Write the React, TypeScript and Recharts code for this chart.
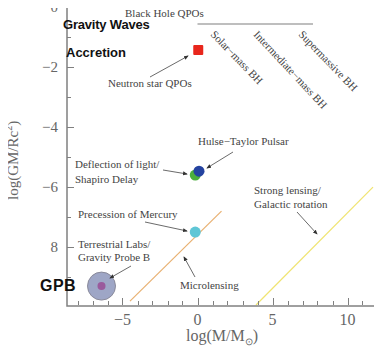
import React from "react";
import {
  ScatterChart,
  Scatter,
  XAxis,
  YAxis,
  ReferenceLine,
} from "recharts";

// measured tests, (log M/Msun, log GM/Rc^2)
const neutronStar = [{ x: 0.05, y: -1.43 }];
const deflection = [{ x: -0.15, y: -5.6 }];
const hulseTaylor = [{ x: 0.1, y: -5.47 }];
const mercury = [{ x: -0.15, y: -7.5 }];
const gpb = [{ x: -6.4, y: -9.3 }];

// segments
const bhQpoLine = [{ x: 0, y: -0.57 }, { x: 7.7, y: -0.57 }];
const microLine = [{ x: -4.5, y: -9.8 }, { x: 1.6, y: -6.8 }];
const strongLine = [{ x: 3.9, y: -9.93 }, { x: 11.7, y: -6.0 }];

const xDomain = [-8.7, 11.9];
const yDomain = [-9.93, 0.1];
const xTicks = [-8, -7, -6, -5, -4, -3, -2, -1, 0, 1, 2, 3, 4, 5, 6, 7, 8, 9, 10, 11];
const xLabels = [-5, 0, 5, 10];
const yTicks = [-9, -8, -7, -6, -5, -4, -3, -2, -1, 0];
const yLabels: Record<number, string> = { 0: "0", [-2]: "\u22122", [-4]: "\u22124", [-6]: "\u22126", [-8]: "8" };

const SERIF = "'Liberation Serif', 'Times New Roman', serif";
const FRAME = "#808080";
const TXT = "#666";

function BottomTick({ x, y, payload }: any) {
  const v = payload.value;
  const major = xLabels.includes(v);
  return (
    <g>
      <rect x={Math.round(x)} y={y - (major ? 7 : 4)} width={1} height={major ? 7 : 4} fill={FRAME} />
      {major && (
        <text x={x} y={y + 20} textAnchor="middle" fontFamily={SERIF} fontSize={16} fill={TXT}>
          {v < 0 ? "\u2212" + Math.abs(v) : v}
        </text>
      )}
    </g>
  );
}

function TopTick({ x, y, payload }: any) {
  const major = xLabels.includes(payload.value);
  return <rect x={Math.round(x)} y={y} width={1} height={major ? 7 : 4} fill={FRAME} />;
}

function LeftTick({ x, y, payload }: any) {
  const lab = yLabels[payload.value];
  return (
    <g>
      <rect x={x} y={Math.round(y)} width={lab ? 7 : 4} height={1} fill={FRAME} />
      {lab && (
        <text x={x - 9} y={y + 5} textAnchor="end" fontFamily={SERIF} fontSize={15} fill={TXT}>
          {lab}
        </text>
      )}
    </g>
  );
}

function RightTick({ x, y, payload }: any) {
  const lab = yLabels[payload.value];
  const w = lab ? 7 : 4;
  return <rect x={x - w} y={Math.round(y)} width={w} height={1} fill={FRAME} />;
}

const dot = (r: number, fill: string) => (p: any) =>
  <circle cx={p.cx} cy={p.cy} r={r} fill={fill} />;

const square = (p: any) =>
  <rect x={p.cx - 5} y={p.cy - 5} width={10} height={10} rx={1} fill="#e8261c" />;

const gpbShape = (p: any) => (
  <g>
    <circle cx={p.cx} cy={p.cy} r={14} fill="#9ea6c6" stroke="#8a8a9a" strokeWidth={1} />
    <circle cx={p.cx} cy={p.cy} r={4} fill="#9a5a9c" />
  </g>
);

function Arrow({ x1, y1, x2, y2 }: { x1: number; y1: number; x2: number; y2: number }) {
  return <line x1={x1} y1={y1} x2={x2} y2={y2} stroke="#444" strokeWidth={0.8} markerEnd="url(#ah)" />;
}

function Overlay() {
  const t = { fontFamily: SERIF, fontSize: 11, fill: "#444" };
  const comic = { fontFamily: "'Liberation Sans', Arial, sans-serif", fontWeight: 700, fill: "#111" };
  return (
    <svg width={382} height={363} style={{ position: "absolute", left: 0, top: 0, pointerEvents: "none" }}>
      <defs>
        <marker id="ah" markerWidth="6" markerHeight="6" refX="5" refY="3" orient="auto">
          <path d="M0,0.5 L6,3 L0,5.5 z" fill="#333" />
        </marker>
      </defs>
      <rect x={1} y={0} width={1} height={345} fill="#aaa" />
      {/* plot frame */}
      <rect x={67} y={4} width={309} height={302} fill="none" stroke={FRAME} strokeWidth={1.5} />

      <text x={125} y={17} {...t}>Black Hole QPOs</text>
      <text x={63} y={29} fontSize={13} {...comic} letterSpacing={-0.2}>Gravity Waves</text>
      <text x={66} y={57} fontSize={13} {...comic}>Accretion</text>
      <text x={40} y={291} fontSize={16} {...comic} letterSpacing={0.5}>GPB</text>

      <text transform="translate(210,35) rotate(46)" {...t}>Solar−mass BH</text>
      <text transform="translate(253,35) rotate(47)" {...t}>Intermediate−mass BH</text>
      <text transform="translate(298,35) rotate(46)" {...t}>Supermassive BH</text>

      <text x={108} y={87} {...t}>Neutron star QPOs</text>
      <Arrow x1={150} y1={77} x2={188} y2={56} />

      <text x={198} y={145} {...t}>Hulse−Taylor Pulsar</text>
      <Arrow x1={233} y1={152} x2={207} y2={168} />

      <text x={75} y={168} {...t}>Deflection of light/</text>
      <text x={75} y={183} {...t}>Shapiro Delay</text>
      <Arrow x1={163} y1={170} x2={187} y2={174} />

      <text x={78} y={218} {...t}>Precession of Mercury</text>
      <Arrow x1={145} y1={222} x2={187} y2={231} />

      <text x={78} y={248} {...t}>Terrestrial Labs/</text>
      <text x={78} y={261} {...t}>Gravity Probe B</text>
      <Arrow x1={131} y1={266} x2={110} y2={278} />

      <text x={180} y={289} {...t}>Microlensing</text>
      <Arrow x1={195} y1={277} x2={184} y2={257} />

      <text x={254} y={194} {...t}>Strong lensing/</text>
      <text x={254} y={208} {...t}>Galactic rotation</text>
      <Arrow x1={297} y1={212} x2={317} y2={234} />

      <text x={186} y={341} fontFamily={SERIF} fontSize={16} fill={TXT}>
        log(M/M<tspan fontSize={10} dy={4}>⊙</tspan><tspan dy={-4}>)</tspan>
      </text>
      <text transform="translate(18,200) rotate(-90)" fontFamily={SERIF} fontSize={15} fill={TXT}>
        log(GM/Rc<tspan fontSize={10} dy={-6}>2</tspan><tspan dy={6}>)</tspan>
      </text>
    </svg>
  );
}

export default function App() {
  return (
    <div style={{ position: "relative", width: 382, height: 363, margin: -8, background: "#fff" }}>
      <ScatterChart width={382} height={363} margin={{ top: 4, right: 6, bottom: 28, left: 7 }}>
        <XAxis
          xAxisId="b"
          type="number"
          dataKey="x"
          domain={xDomain}
          ticks={xTicks}
          interval={0}
          allowDataOverflow
          height={30}
          tickSize={0}
          tickMargin={0}
          axisLine={false}
          tick={<BottomTick />}
        />
        <XAxis
          xAxisId="t"
          orientation="top"
          type="number"
          dataKey="x"
          domain={xDomain}
          ticks={xTicks}
          interval={0}
          allowDataOverflow
          height={0}
          tickSize={0}
          tickMargin={0}
          axisLine={false}
          tick={<TopTick />}
        />
        <YAxis
          yAxisId="l"
          type="number"
          dataKey="y"
          domain={yDomain}
          ticks={yTicks}
          interval={0}
          allowDataOverflow
          width={60}
          tickSize={0}
          tickMargin={0}
          axisLine={false}
          tick={<LeftTick />}
        />
        <YAxis
          yAxisId="r"
          orientation="right"
          type="number"
          dataKey="y"
          domain={yDomain}
          ticks={yTicks}
          interval={0}
          allowDataOverflow
          width={0}
          tickSize={0}
          tickMargin={0}
          axisLine={false}
          tick={<RightTick />}
        />
        <ReferenceLine
          xAxisId="b"
          yAxisId="l"
          segment={bhQpoLine}
          stroke="#a8a8a8"
          strokeWidth={1.5}
        />
        <ReferenceLine
          xAxisId="b"
          yAxisId="l"
          segment={microLine}
          stroke="#e8b070"
          strokeWidth={1.2}
        />
        <ReferenceLine
          xAxisId="b"
          yAxisId="l"
          segment={strongLine}
          stroke="#f0e470"
          strokeWidth={1.2}
        />
        <Scatter xAxisId="b" yAxisId="l" data={gpb} shape={gpbShape} isAnimationActive={false} />
        <Scatter xAxisId="b" yAxisId="l" data={neutronStar} shape={square} isAnimationActive={false} />
        <Scatter xAxisId="b" yAxisId="l" data={deflection} shape={dot(5.5, "#4cae3c")} isAnimationActive={false} />
        <Scatter xAxisId="b" yAxisId="l" data={hulseTaylor} shape={dot(5.5, "#2443a0")} isAnimationActive={false} />
        <Scatter xAxisId="b" yAxisId="l" data={mercury} shape={dot(5.5, "#5fc6d6")} isAnimationActive={false} />
      </ScatterChart>
      <Overlay />
    </div>
  );
}
